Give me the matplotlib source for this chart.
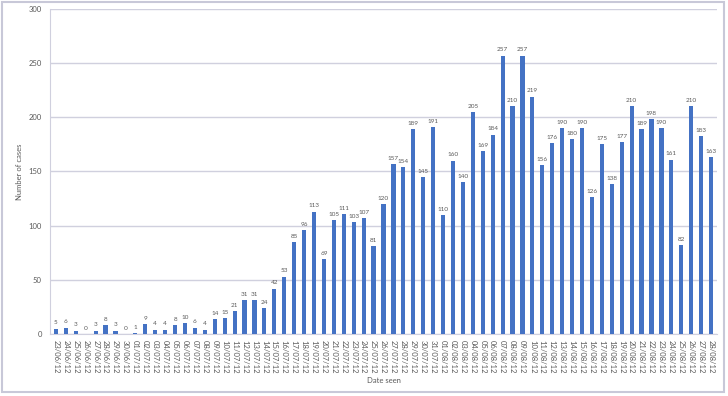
import matplotlib
matplotlib.use("Agg")
import matplotlib.pyplot as plt
from matplotlib.patches import Rectangle
import pandas as pd

dates = pd.date_range("2012-06-23", "2012-08-28", freq="D").strftime("%d/%m/%y").tolist()
cases = [5, 6, 3, 0, 3, 8, 3, 0, 1, 9, 4, 4, 8, 10, 6, 4, 14, 15, 21, 31, 31, 24, 42, 53,
         85, 96, 113, 69, 105, 111, 103, 107, 81, 120, 157, 154, 189, 145, 191, 110, 160,
         140, 205, 169, 184, 257, 210, 257, 219, 156, 176, 190, 180, 190, 126, 175, 138,
         177, 210, 189, 198, 190, 161, 82, 210, 183, 163]

plt.rcParams['font.family'] = ['Lato', 'DejaVu Sans']
txt = '#595959'

fig = plt.figure(figsize=(7.28, 3.96), dpi=100)
ax = fig.add_axes([50/728, 62/396, 667/728, 325/396])

x = list(range(len(cases)))
ax.bar(x, cases, width=0.42, color='#4472C4', zorder=3)
for xi, v in zip(x, cases):
    ax.text(xi, v + 3, str(v), ha='center', va='bottom', fontsize=4.6, color=txt, zorder=4,
            family=['Liberation Sans Narrow', 'Lato', 'DejaVu Sans'])

ax.set_xlim(-0.6, len(cases) - 0.4)
ax.set_ylim(0, 300)
ax.set_yticks(range(0, 301, 50))
ax.yaxis.grid(True, color='#D0D0DE', linewidth=1.0, zorder=0)
ax.set_xticks(x)
ax.set_xticklabels(dates, rotation=-90, fontsize=5.5, color=txt)
ax.tick_params(axis='y', labelsize=5.5, colors=txt, length=0, pad=6)
ax.tick_params(axis='x', length=0, pad=4)
for s in ['top', 'right']:
    ax.spines[s].set_visible(False)
ax.spines['left'].set_color('#D0D0DE')
ax.spines['bottom'].set_color('#D0D0DE')
ax.set_ylabel('Number of cases', fontsize=5.5, color=txt, labelpad=4)
ax.set_xlabel('Date seen', fontsize=5.5, color=txt, labelpad=3)

fig.patches.append(Rectangle((2/728, 4/396), 722/728, 390/396, transform=fig.transFigure,
                             fill=False, edgecolor='#C8C8D8', linewidth=1.5))

fig.savefig('out.png', dpi=100)
